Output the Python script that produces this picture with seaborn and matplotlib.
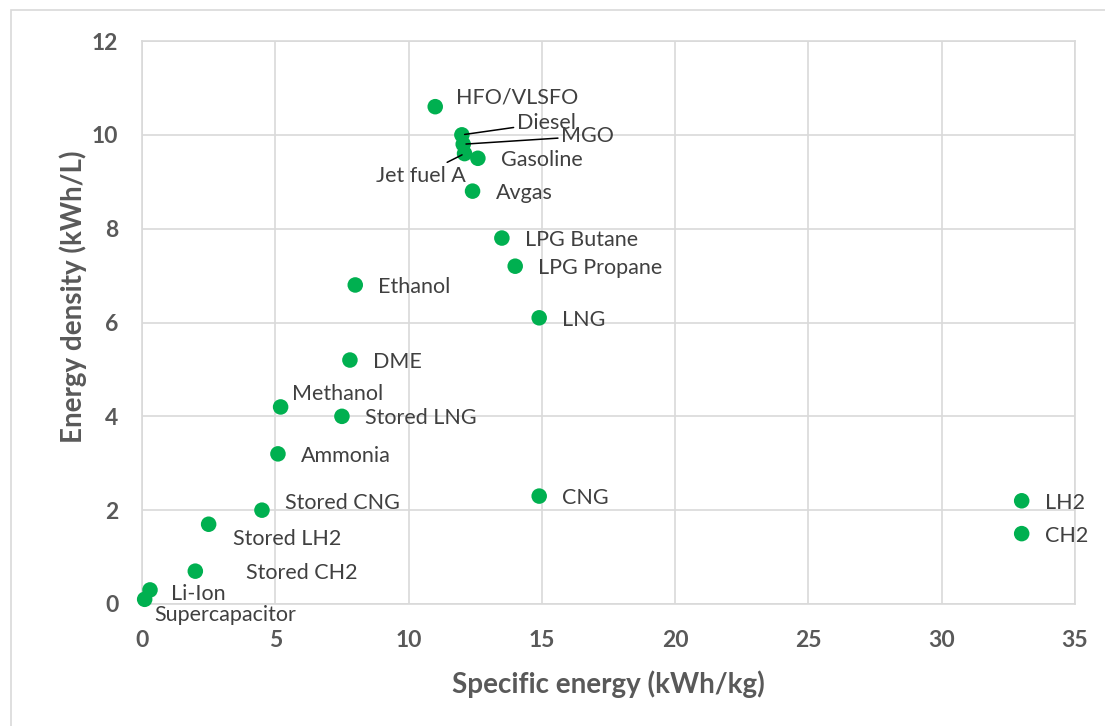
import matplotlib
matplotlib.use("Agg")
import matplotlib.pyplot as plt
import matplotlib.patches as mpatches
import seaborn as sns
import pandas as pd

# ---------------------- DATA ----------------------
fuels = ["HFO/VLSFO", "Diesel", "MGO", "Jet fuel A", "Gasoline", "Avgas",
         "LPG Butane", "LPG Propane", "Ethanol", "LNG", "DME", "Methanol",
         "Stored LNG", "Ammonia", "Stored CNG", "CNG", "Stored LH2",
         "Stored CH2", "Li-Ion", "Supercapacitor", "LH2", "CH2"]
specific_energy = [11.0, 12.0, 12.05, 12.1, 12.6, 12.4,
                   13.5, 14.0, 8.0, 14.9, 7.8, 5.2,
                   7.5, 5.1, 4.5, 14.9, 2.5,
                   2.0, 0.3, 0.1, 33.0, 33.0]
energy_density = [10.6, 10.0, 9.8, 9.6, 9.5, 8.8,
                  7.8, 7.2, 6.8, 6.1, 5.2, 4.2,
                  4.0, 3.2, 2.0, 2.3, 1.7,
                  0.7, 0.3, 0.1, 2.2, 1.5]

df = pd.DataFrame({"fuel": fuels, "kwh_kg": specific_energy, "kwh_l": energy_density})

# label offsets in pixels (dx, dy), default to the right of the point
offsets = {
    "HFO/VLSFO": (21, 9), "Diesel": (55, 12), "MGO": (98, 8),
    "Jet fuel A": (1, -22), "Methanol": (11, 13), "Stored CNG": (23, 7),
    "Stored LH2": (24, -15), "Stored CH2": (51, -2), "Li-Ion": (21, -4),
    "Supercapacitor": (10, -16),
}
leaders = {"Diesel", "MGO", "Jet fuel A"}

# ---------------------- PLOT ----------------------
sns.set_style("white")
plt.rcParams["font.family"] = ["Lato", "DejaVu Sans"]

fig = plt.figure(figsize=(11.05, 7.26), dpi=100)
ax = fig.add_axes([142 / 1105, 1 - 604 / 726, (1075 - 142) / 1105, (604 - 41) / 726])

fig.patches.append(mpatches.Rectangle((11 / 1105, -0.1), 1.2, 1 - 10 / 726 + 0.1,
                                      transform=fig.transFigure, fill=False,
                                      edgecolor="#d9d9d9", linewidth=1.2))

sns.scatterplot(data=df, x="kwh_kg", y="kwh_l", ax=ax, color="#00B050",
                s=125, edgecolor="none", zorder=3, clip_on=False)

for f, xv, yv in zip(fuels, specific_energy, energy_density):
    dx, dy = offsets.get(f, (23, -2))
    ha = "right" if f == "Jet fuel A" else "left"
    arrow = None
    if f in leaders:
        arrow = dict(arrowstyle="-", color="black", lw=1.1, shrinkA=0, shrinkB=2)
    ax.annotate(f, (xv, yv), xytext=(dx, dy), textcoords="offset pixels",
                ha=ha, va="center", fontsize=15.5, color="#404040",
                arrowprops=arrow, zorder=4)

ax.set_xlim(0, 35)
ax.set_ylim(0, 12)
ax.set_xticks(range(0, 36, 5))
ax.set_yticks(range(0, 13, 2))
ax.grid(True, color="#d9d9d9", linewidth=1.2)
ax.set_axisbelow(True)
for sp in ax.spines.values():
    sp.set_color("#d9d9d9")
    sp.set_linewidth(1.2)
ax.tick_params(length=0, labelsize=16.5, labelcolor="#595959")
ax.tick_params(axis="x", pad=19)
ax.tick_params(axis="y", pad=17)
for lbl in ax.get_xticklabels() + ax.get_yticklabels():
    lbl.set_fontweight("bold")
ax.set_xlabel("Specific energy (kWh/kg)", fontsize=20, fontweight="bold",
              color="#595959", labelpad=14)
ax.set_ylabel("Energy density (kWh/L)", fontsize=20, fontweight="bold",
              color="#595959")
ax.yaxis.set_label_coords(-0.059, 0.545)

fig.savefig("out.png", dpi=100)
